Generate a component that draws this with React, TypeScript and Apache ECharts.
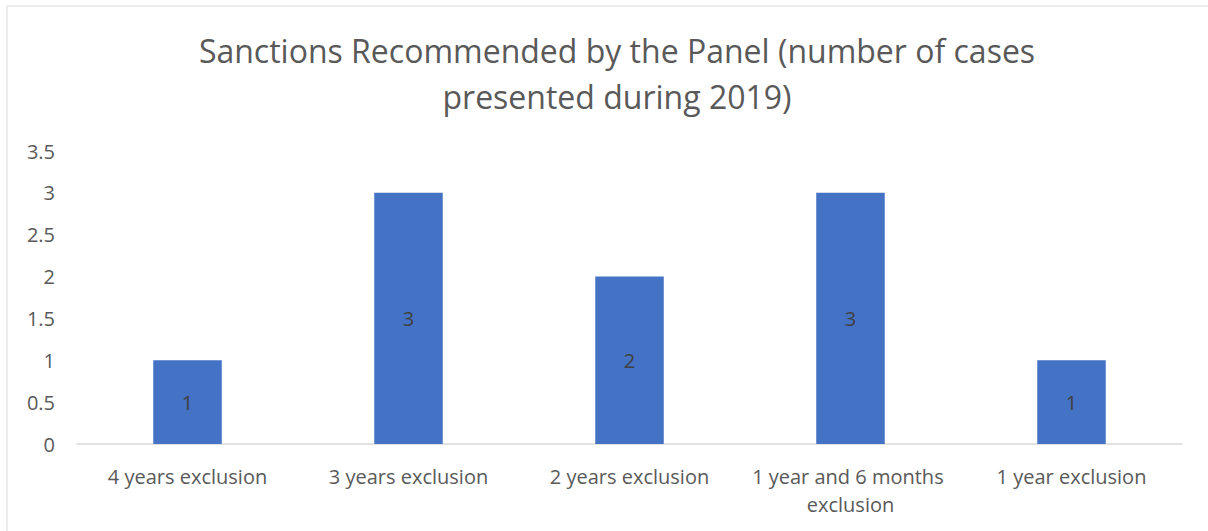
import React, { useEffect, useRef } from "react";
import * as echarts from "echarts";

const titleText = "Sanctions Recommended by the Panel (number of cases\npresented during 2019)";
const categories = [
  "4 years exclusion",
  "3 years exclusion",
  "2 years exclusion",
  "1 year and 6 months exclusion",
  "1 year exclusion",
];
const values = [1, 3, 2, 3, 1];
const yMin = 0;
const yMax = 3.5;
const yInterval = 0.5;

export default function App() {
  const ref = useRef<HTMLDivElement>(null);
  useEffect(() => {
    if (!ref.current) return;
    const chart = echarts.init(ref.current, undefined, { renderer: "svg" });
    const font = "'Open Sans', 'Noto Sans', sans-serif";
    chart.setOption({
      animation: false,
      backgroundColor: "#ffffff",
      title: {
        text: titleText,
        left: 612,
        textAlign: "center",
        top: 22,
        textStyle: {
          fontFamily: font,
          fontSize: 32,
          fontWeight: "normal",
          color: "#595959",
          lineHeight: 46,
        },
      },
      graphic: [
        {
          type: "rect",
          shape: { x: 7, y: 6, width: 1400, height: 700 },
          style: { fill: "none", stroke: "#d9d9d9", lineWidth: 1 },
          silent: true,
        },
      ],
      grid: { left: 77, right: 26, top: 151, bottom: 87, containLabel: false },
      xAxis: {
        type: "category",
        data: categories,
        axisLine: { lineStyle: { color: "#d9d9d9", width: 1.5 } },
        axisTick: { show: false },
        axisLabel: {
          fontFamily: font,
          fontSize: 20,
          color: "#595959",
          margin: 18,
          lineHeight: 28,
          width: 215,
          overflow: "break",
          interval: 0,
        },
      },
      yAxis: {
        type: "value",
        min: yMin,
        max: yMax,
        interval: yInterval,
        splitLine: { show: false },
        axisLine: { show: false },
        axisTick: { show: false },
        axisLabel: {
          fontFamily: font,
          fontSize: 20,
          color: "#595959",
          margin: 22,
        },
      },
      series: [
        {
          type: "bar",
          data: values,
          barWidth: "31%",
          itemStyle: { color: "#4472c4" },
          label: {
            show: true,
            position: "inside",
            fontFamily: font,
            fontSize: 20,
            color: "#404040",
          },
        },
      ],
    });
    return () => chart.dispose();
  }, []);
  return (
    <div
      ref={ref}
      style={{ position: "absolute", left: 0, top: 0, width: 1208, height: 531 }}
    />
  );
}
